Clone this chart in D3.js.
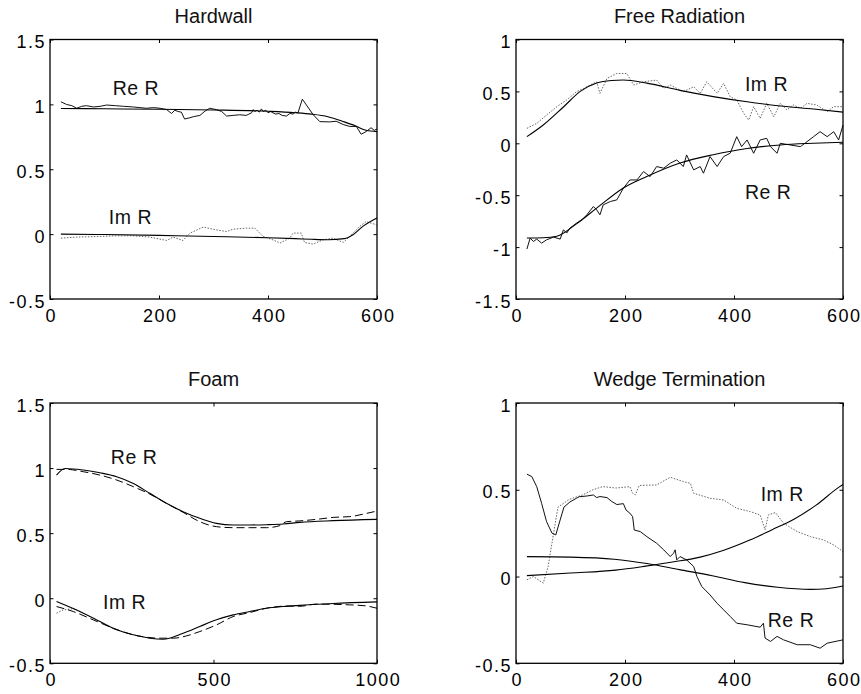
<!DOCTYPE html>
<html>
<head>
<meta charset="utf-8">
<script src="https://cdn.jsdelivr.net/npm/d3@7"></script>
<style>
  html, body { margin: 0; padding: 0; background: #fff; }
  svg { display: block; font-family: "Liberation Sans", Arial, Helvetica, sans-serif; }
</style>
</head>
<body>
<svg id="chart" width="861" height="694"></svg>
<script>
// ---------------- DATA ----------------
// Panel 1: Hardwall
const hwReFitX = [20, 100, 200, 300, 400, 450, 480, 510, 540, 560, 580, 600];
const hwReFitY = [0.968, 0.966, 0.962, 0.957, 0.947, 0.936, 0.925, 0.905, 0.865, 0.835, 0.80, 0.79];
const hwImFitX = [20, 100, 200, 300, 400, 450, 480, 510, 540, 556, 574, 600];
const hwImFitY = [0, -0.003, -0.01, -0.018, -0.028, -0.035, -0.04, -0.043, -0.035, -0.005, 0.06, 0.125];
const hwReMeasX = [20, 30, 40, 49, 58, 67, 80, 92, 104, 120, 135, 153, 165, 177, 190, 202, 214, 223, 229, 235, 241, 247, 255, 263, 275, 285, 293, 305, 315, 324, 336, 348, 360, 365, 370, 373, 376, 380, 384, 388, 391, 396, 400, 405, 409, 414, 420, 426, 434, 440, 446, 450, 455, 463, 483, 495, 513, 525, 538, 550, 562, 571, 580, 589, 595, 600];
const hwReMeasY = [1.02, 1.0, 0.99, 0.97, 0.985, 0.99, 0.98, 0.985, 0.995, 0.99, 0.985, 0.98, 0.975, 0.97, 0.975, 0.97, 0.96, 0.93, 0.955, 0.945, 0.94, 0.887, 0.895, 0.905, 0.915, 0.95, 0.97, 0.96, 0.945, 0.91, 0.915, 0.92, 0.915, 0.925, 0.935, 0.96, 0.945, 0.955, 0.94, 0.965, 0.945, 0.955, 0.935, 0.945, 0.935, 0.925, 0.93, 0.915, 0.91, 0.93, 0.925, 0.94, 0.935, 1.04, 0.92, 0.867, 0.865, 0.87, 0.845, 0.83, 0.83, 0.77, 0.79, 0.82, 0.8, 0.81];
const hwImMeasX = [20, 49, 92, 122, 153, 183, 214, 226, 244, 257, 281, 305, 324, 336, 360, 376, 391, 409, 422, 440, 446, 461, 467, 483, 501, 519, 538, 550, 568, 580, 599];
const hwImMeasY = [-0.031, -0.023, -0.018, -0.013, -0.013, -0.023, -0.049, -0.023, -0.049, 0.008, 0.054, 0.033, 0.02, 0.038, 0.046, 0.046, -0.018, -0.044, -0.069, -0.031, 0.008, 0.008, -0.064, -0.077, -0.044, -0.031, -0.064, -0.018, 0.059, 0.097, 0.072];

// Panel 2: Free Radiation
const frImFitX = [20, 50, 87, 118, 148, 175, 197, 240, 301, 362, 424, 485, 546, 600];
const frImFitY = [0.064, 0.176, 0.35, 0.5, 0.58, 0.605, 0.61, 0.58, 0.51, 0.45, 0.40, 0.36, 0.33, 0.30];
const frImMeasX = [20, 38, 56, 75, 93, 111, 124, 136, 148, 154, 167, 185, 203, 216, 234, 258, 271, 283, 307, 326, 338, 350, 369, 381, 393, 405, 418, 427, 436, 448, 460, 473, 485, 497, 509, 522, 534, 552, 571, 583, 600];
const frImMeasY = [0.144, 0.192, 0.272, 0.353, 0.417, 0.497, 0.529, 0.561, 0.593, 0.481, 0.625, 0.673, 0.673, 0.561, 0.593, 0.609, 0.529, 0.561, 0.497, 0.545, 0.481, 0.593, 0.481, 0.577, 0.449, 0.417, 0.288, 0.224, 0.353, 0.24, 0.385, 0.256, 0.385, 0.321, 0.369, 0.337, 0.385, 0.369, 0.304, 0.353, 0.353];
const frReFitX = [20, 50, 75, 111, 148, 197, 240, 301, 362, 424, 485, 546, 600];
const frReFitY = [-0.913, -0.91, -0.895, -0.776, -0.625, -0.43, -0.32, -0.19, -0.11, -0.05, -0.016, 0, 0.01];
const frReMeasX = [20, 26, 32, 38, 47, 56, 69, 81, 87, 93, 99, 111, 121, 130, 142, 148, 154, 160, 173, 185, 197, 209, 222, 234, 246, 258, 271, 283, 295, 307, 313, 326, 338, 344, 356, 369, 381, 393, 405, 414, 424, 436, 448, 460, 467, 479, 485, 503, 522, 534, 546, 558, 571, 583, 592, 600];
const frReMeasY = [-1.019, -0.913, -0.946, -0.923, -0.962, -0.93, -0.904, -0.923, -0.833, -0.865, -0.817, -0.769, -0.737, -0.689, -0.609, -0.641, -0.689, -0.593, -0.561, -0.545, -0.433, -0.353, -0.353, -0.272, -0.321, -0.224, -0.24, -0.192, -0.16, -0.224, -0.112, -0.256, -0.224, -0.288, -0.128, -0.224, -0.128, -0.096, 0.064, -0.032, 0.032, -0.096, 0.032, 0.048, -0.032, -0.096, 0, -0.016, -0.032, 0.016, 0.064, 0.112, 0.064, 0.112, 0.032, 0.176];

// Panel 3: Foam
const fmReSolidX = [20, 46, 102, 153, 204, 255, 305, 356, 407, 458, 509, 560, 611, 662, 713, 764, 866, 1000];
const fmReSolidY = [0.946, 0.997, 0.985, 0.964, 0.934, 0.882, 0.806, 0.729, 0.665, 0.614, 0.575, 0.563, 0.563, 0.565, 0.57, 0.583, 0.596, 0.606];
const fmReDashX = [20, 51, 102, 153, 204, 255, 305, 356, 407, 458, 509, 560, 611, 662, 703, 723, 764, 815, 866, 917, 968, 1000];
const fmReDashY = [0.99, 0.99, 0.972, 0.946, 0.908, 0.857, 0.8, 0.729, 0.66, 0.588, 0.55, 0.542, 0.542, 0.542, 0.558, 0.588, 0.594, 0.606, 0.621, 0.627, 0.652, 0.67];
const fmImSolidX = [20, 102, 153, 204, 255, 305, 346, 407, 458, 509, 560, 611, 662, 713, 764, 866, 1000];
const fmImSolidY = [-0.026, -0.115, -0.179, -0.243, -0.281, -0.307, -0.315, -0.269, -0.217, -0.166, -0.128, -0.102, -0.077, -0.064, -0.055, -0.04, -0.028];
const fmImDashX = [20, 71, 132, 193, 255, 336, 377, 418, 458, 509, 560, 611, 662, 723, 764, 815, 917, 967, 1000];
const fmImDashY = [-0.064, -0.102, -0.166, -0.23, -0.281, -0.307, -0.307, -0.289, -0.256, -0.205, -0.141, -0.11, -0.077, -0.06, -0.062, -0.045, -0.051, -0.059, -0.077];
const fmImDotX = [20, 40, 70, 100];
const fmImDotY = [-0.115, -0.09, -0.08, -0.11];

// Panel 4: Wedge Termination
const wtReMeasX = [20, 29, 38, 47, 56, 66, 73, 81, 88, 99, 111, 116, 130, 142, 148, 154, 167, 176, 185, 197, 202, 209, 214, 217, 228, 240, 258, 271, 283, 289, 292, 295, 301, 313, 326, 332, 341, 356, 369, 381, 393, 405, 424, 448, 454, 457, 467, 479, 491, 516, 540, 558, 571, 600];
const wtReMeasY = [0.59, 0.576, 0.518, 0.422, 0.317, 0.25, 0.24, 0.326, 0.40, 0.43, 0.451, 0.46, 0.464, 0.47, 0.455, 0.461, 0.455, 0.432, 0.415, 0.42, 0.383, 0.365, 0.345, 0.268, 0.259, 0.23, 0.192, 0.154, 0.115, 0.134, 0.154, 0.096, 0.115, 0.096, 0.058, 0.0, -0.058, -0.106, -0.154, -0.192, -0.23, -0.269, -0.278, -0.292, -0.269, -0.355, -0.374, -0.345, -0.365, -0.393, -0.393, -0.413, -0.384, -0.365];
const wtImMeasX = [20, 32, 50, 59, 69, 77, 98, 122, 141, 159, 183, 209, 214, 219, 226, 258, 283, 307, 320, 326, 356, 381, 405, 430, 448, 457, 463, 476, 491, 516, 540, 564, 583, 600];
const wtImMeasY = [-0.019, 0.0, -0.038, 0.058, 0.25, 0.40, 0.445, 0.47, 0.50, 0.518, 0.51, 0.518, 0.48, 0.47, 0.525, 0.528, 0.572, 0.547, 0.537, 0.48, 0.451, 0.441, 0.393, 0.374, 0.355, 0.269, 0.355, 0.369, 0.307, 0.259, 0.23, 0.211, 0.182, 0.144];
const wtFitAX = [20, 100, 183, 238, 290, 338, 380, 429, 470, 510, 550, 594, 600];
const wtFitAY = [0.005, 0.02, 0.037, 0.06, 0.085, 0.112, 0.15, 0.21, 0.27, 0.33, 0.41, 0.518, 0.53];
const wtFitBX = [20, 100, 180, 240, 300, 360, 420, 480, 540, 570, 600];
const wtFitBY = [0.115, 0.112, 0.1, 0.075, 0.04, 0.005, -0.035, -0.062, -0.074, -0.07, -0.055];

// ---------------- TICKS ----------------
const xTicks600 = [0, 200, 400, 600];
const xTicks1000 = [0, 500, 1000];
const yTicksA = [-0.5, 0, 0.5, 1, 1.5];
const yTicksB = [-1.5, -1, -0.5, 0, 0.5, 1];
const yTicksC = [-0.5, 0, 0.5, 1];

const zip = (xs, ys) => xs.map((x, i) => [x, ys[i]]);

const panels = [
  { title: "Hardwall", box: [50, 39.5, 377, 299], xd: [0, 600], yd: [-0.5, 1.5], xt: xTicks600, yt: yTicksA,
    series: [
      { d: zip(hwImMeasX, hwImMeasY), style: "dot" },
      { d: zip(hwReMeasX, hwReMeasY), style: "noisy" },
      { d: zip(hwReFitX, hwReFitY), style: "fit" },
      { d: zip(hwImFitX, hwImFitY), style: "fit" }
    ],
    labels: [{ t: "Re R", x: 115, y: 1.074 }, { t: "Im R", x: 108, y: 0.08 }] },
  { title: "Free Radiation", box: [516, 39.5, 843, 299], xd: [0, 600], yd: [-1.5, 1], xt: xTicks600, yt: yTicksB,
    series: [
      { d: zip(frImMeasX, frImMeasY), style: "dot" },
      { d: zip(frReMeasX, frReMeasY), style: "noisy" },
      { d: zip(frImFitX, frImFitY), style: "fit" },
      { d: zip(frReFitX, frReFitY), style: "fit" }
    ],
    labels: [{ t: "Im R", x: 420, y: 0.507 }, { t: "Re R", x: 420, y: -0.537 }] },
  { title: "Foam", box: [50, 403, 377, 663.3], xd: [0, 1000], yd: [-0.5, 1.5], xt: xTicks1000, yt: yTicksA,
    series: [
      { d: zip(fmImDotX, fmImDotY), style: "dot" },
      { d: zip(fmReDashX, fmReDashY), style: "dash" },
      { d: zip(fmImDashX, fmImDashY), style: "dash" },
      { d: zip(fmReSolidX, fmReSolidY), style: "fit" },
      { d: zip(fmImSolidX, fmImSolidY), style: "fit" }
    ],
    labels: [{ t: "Re R", x: 186, y: 1.03 }, { t: "Im R", x: 162, y: -0.083 }] },
  { title: "Wedge Termination", box: [516, 403, 843, 663.3], xd: [0, 600], yd: [-0.5, 1], xt: xTicks600, yt: yTicksC,
    series: [
      { d: zip(wtImMeasX, wtImMeasY), style: "dot" },
      { d: zip(wtReMeasX, wtReMeasY), style: "noisy" },
      { d: zip(wtFitAX, wtFitAY), style: "fit" },
      { d: zip(wtFitBX, wtFitBY), style: "fit" }
    ],
    labels: [{ t: "Im R", x: 449, y: 0.437 }, { t: "Re R", x: 462, y: -0.293 }] }
];

const svg = d3.select("#chart");
const fmt = v => (v < 0 ? "-" : "") + String(Math.abs(v));

panels.forEach(p => {
  const [x0, y0, x1, y1] = p.box;
  const xs = d3.scaleLinear().domain(p.xd).range([x0, x1]);
  const ys = d3.scaleLinear().domain(p.yd).range([y1, y0]);
  const g = svg.append("g");

  // data lines
  p.series.forEach(s => {
    const line = d3.line().x(d => xs(d[0])).y(d => ys(d[1]))
      .curve(s.style === "fit" || s.style === "dash" ? d3.curveMonotoneX : d3.curveLinear);
    const path = g.append("path").datum(s.d).attr("d", line).attr("fill", "none");
    if (s.style === "fit") path.attr("stroke", "#000").attr("stroke-width", 1.1);
    else if (s.style === "noisy") path.attr("stroke", "#111").attr("stroke-width", 1);
    else if (s.style === "dash") path.attr("stroke", "#000").attr("stroke-width", 1).attr("stroke-dasharray", "8,4");
    else path.attr("stroke", "#666").attr("stroke-width", 1).attr("stroke-dasharray", "1.5,1.5");
  });

  // axes (inside ticks on all sides)
  const tl = 3.5;
  const axB = d3.axisBottom(xs).tickValues(p.xt).tickSizeInner(-tl).tickSizeOuter(0).tickFormat(fmt).tickPadding(10);
  const axT = d3.axisTop(xs).tickValues(p.xt).tickSizeInner(-tl).tickSizeOuter(0).tickFormat("");
  const axL = d3.axisLeft(ys).tickValues(p.yt).tickSizeInner(-tl).tickSizeOuter(0).tickFormat(fmt).tickPadding(4);
  const axR = d3.axisRight(ys).tickValues(p.yt).tickSizeInner(-tl).tickSizeOuter(0).tickFormat("");

  const gb = g.append("g").attr("transform", `translate(0,${y1})`).call(axB);
  const gt = g.append("g").attr("transform", `translate(0,${y0})`).call(axT);
  const gl = g.append("g").attr("transform", `translate(${x0},0)`).call(axL);
  const gr = g.append("g").attr("transform", `translate(${x1},0)`).call(axR);
  [gb, gt, gl, gr].forEach(a => {
    a.select(".domain").remove();
    a.selectAll("line").attr("stroke", "#000").attr("stroke-width", 1);
    a.selectAll("text").attr("fill", "#000").style("font-size", "18px")
      .style("letter-spacing", "1.5px").style("font-family", '"Liberation Sans", Arial, sans-serif');
  });
  gl.selectAll("text").attr("dy", "0.45em");
  gb.selectAll("text").attr("dy", "0.72em").attr("dx", "0.75px");

  // box
  g.append("rect").attr("x", x0).attr("y", y0).attr("width", x1 - x0).attr("height", y1 - y0)
    .attr("fill", "none").attr("stroke", "#000").attr("stroke-width", 1.3);

  // title
  g.append("text").attr("x", (x0 + x1) / 2).attr("y", y0 - 16.8).attr("text-anchor", "middle")
    .style("font-size", "20px").attr("fill", "#111").text(p.title);

  // curve labels
  p.labels.forEach(l => {
    g.append("text").attr("x", xs(l.x)).attr("y", ys(l.y)).style("font-size", "19.5px")
      .style("letter-spacing", "0.5px").attr("fill", "#111").text(l.t);
  });
});
</script>
</body>
</html>
